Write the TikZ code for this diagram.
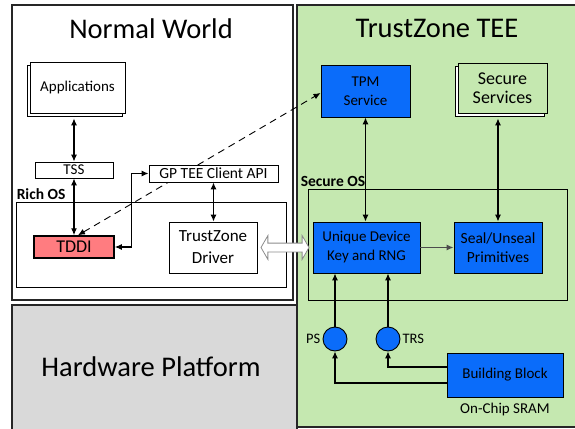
\documentclass[tikz,border=0pt]{standalone}
\usepackage{fontspec}
\setmainfont{Carlito}
\usetikzlibrary{positioning,calc,arrows.meta,shapes.arrows,shadows}
\definecolor{teegreen}{RGB}{197,232,176}
\definecolor{hwgray}{RGB}{217,217,217}
\definecolor{tzblue}{RGB}{10,108,250}
\definecolor{tddired}{RGB}{255,124,128}
\pgfdeclarelayer{paperlayer}
\pgfdeclarelayer{edgelayer}
\pgfsetlayers{paperlayer,edgelayer,main}
\tikzset{x=1pt, y=-1pt}
\tikzstyle{panel}=[draw=black!85, line width=1.2pt, inner sep=0pt]
\tikzstyle{osbox}=[draw, line width=0.9pt, inner sep=0pt]
\tikzstyle{box}=[draw, line width=0.9pt, fill=white, align=center, inner sep=0pt, node font={\fontsize{15}{19}\selectfont}]
\tikzstyle{bluebox}=[box, fill=tzblue]
\tikzstyle{stack}=[box, copy shadow={shadow xshift=-3pt, shadow yshift=-3pt, fill=white, draw=black, line width=0.9pt}]
\tikzstyle{src}=[circle, draw, line width=0.9pt, fill=tzblue, minimum size=24pt, inner sep=0pt]
\tikzstyle{lbl}=[inner sep=1pt, node font={\fontsize{14.5}{17}\selectfont}]
\tikzstyle{title}=[node font={\fontsize{28.5}{32}\selectfont}]
\tikzstyle{dbl}=[{Latex[length=7pt,width=6pt]}-{Latex[length=7pt,width=6pt]}, line width=1.1pt]
\tikzstyle{one}=[-{Latex[length=7pt,width=6pt]}, line width=1.1pt]
\begin{document}
\begin{tikzpicture}
        \useasboundingbox (0,0) rectangle (575,428);
        % the three worlds
        \begin{pgfonlayer}{paperlayer}
        \node (hw) [panel, fill=hwgray, minimum width=285pt, minimum height=127pt] at (154.5,368.5) {};
        \node (nw) [panel, fill=white, minimum width=281pt, minimum height=295pt] at (152.5,152.5) {};
        \node (tee) [panel, fill=teegreen, minimum width=283pt, minimum height=422pt] at (438.5,216) {};
        \end{pgfonlayer}
        \node [title] at (151,29) {Normal World};
        \node [title] at (437,28) {TrustZone TEE};
        \node [title] at (151,367) {Hardware Platform};
        % OS frames
        \node (ros) [osbox, minimum width=270pt, minimum height=85pt] at (151,244.5) {};
        \node (sos) [osbox, minimum width=259pt, minimum height=111pt] at (437.5,244.5) {};
        \node [lbl, font=\bfseries\fontsize{15.5}{18}\selectfont, anchor=south west] at ([yshift=1pt]ros.north west) {Rich OS};
        \node [lbl, font=\bfseries\fontsize{15.5}{18}\selectfont, anchor=south west] at ([xshift=-8pt,yshift=1pt]sos.north west) {Secure OS};
        % normal world
        \node (app) [stack, minimum width=95pt, minimum height=51pt] at (77.5,87.5) {Applications};
        \node (tss) [box, minimum width=78pt, minimum height=16pt] at (74,170) {TSS};
        \node (gp) [box, node font={\fontsize{15.5}{19}\selectfont}, minimum width=129pt, minimum height=17pt] at (213.5,173.5) {GP TEE Client API};
        \node (tddi) [box, node font={\fontsize{18}{20}\selectfont}, fill=tddired, line width=1.5pt, minimum width=80pt, minimum height=22pt] at (74,247) {TDDI};
        \node (drv) [box, node font={\fontsize{17}{22}\selectfont}, minimum width=88pt, minimum height=51pt] at (213,247.5) {TrustZone\\Driver};
        % secure world
        \node (tpm) [bluebox, minimum width=89pt, minimum height=52pt] at (365.5,91) {TPM\\Service};
        \node (ss) [stack, node font={\fontsize{18}{19}\selectfont}, fill=teegreen, minimum width=89pt, minimum height=50pt] at (502.5,88) {Secure\\Services};
        \node (udk) [bluebox, minimum width=107pt, minimum height=51pt] at (366.5,247.5) {Unique Device\\Key and RNG};
        \node (seal) [bluebox, node font={\fontsize{15.5}{19}\selectfont}, minimum width=88pt, minimum height=51pt] at (498,247.5) {Seal/Unseal\\Primitives};
        \node (ps) [src] at (335,339) {};
        \node (trs) [src] at (388,339) {};
        \node (bb) [bluebox, minimum width=116pt, minimum height=44pt] at (505,375) {Building Block};
        \node [lbl, left=1pt of ps] {PS};
        \node [lbl, right=1pt of trs] {TRS};
        \node [lbl, node font={\fontsize{15}{17}\selectfont}, below=4pt of bb] {On-Chip SRAM};
        % connectors
        \draw[dbl] (tss.north) -- ([yshift=-5pt]tss.north |- app.south);
        \draw[dbl] (tss.south) -- (tddi.north);
        \draw[dbl] (gp.south) -- (gp.south |- drv.north);
        \draw[dbl] (tddi.east) -| ([xshift=-17pt]gp.west) -- (gp.west);
        \begin{pgfonlayer}{edgelayer}
        \draw[dbl, dashed, dash pattern=on 7pt off 5pt, line width=0.9pt] ([xshift=4pt]tddi.north) -- ([yshift=-2pt]tpm.west);
        \end{pgfonlayer}
        \draw[dbl] (tpm.south) -- (tpm.south |- udk.north);
        \draw[dbl] (seal.north) -- ([yshift=-5pt]seal.north |- ss.south);
        \draw[one, black!70] (udk) -- (seal);
        \draw[one] (ps) -- (ps |- udk.south);
        \draw[one] (trs) -- (trs |- udk.south);
        \draw[one] ([yshift=8pt]bb.west) -| (trs.south);
        \draw[one] ([yshift=-8pt]bb.west) -| (ps.south);
        \node (bus) [double arrow, draw=black!45, fill=white, line width=0.8pt, inner sep=4pt,
            double arrow head extend=7.5pt, double arrow tip angle=120, minimum height=48pt]
            at ($(drv.east)!0.5!(udk.west)$) {};
\end{tikzpicture}
\end{document}
